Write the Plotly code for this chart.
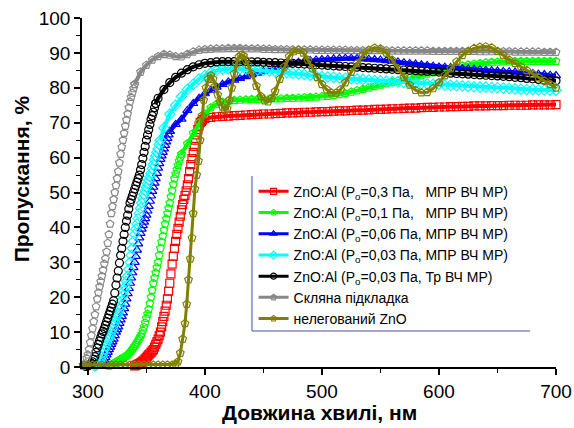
import plotly.graph_objects as go

# ---------------- data ----------------
# Each series: 1-nm steps through the absorption edge, then 5-nm steps to 700 nm.
wl_glass = list(range(296, 341)) + list(range(345, 701, 5))
T_glass = [0.3, 0.6, 1, 2.5, 3.5, 5, 7, 9, 11, 13, 15, 17.3, 19.5, 21.3, 23, 24.5, 26, 27.7, 29.5, 31, 33, 35.5,
           38, 41, 44, 46, 48, 50, 52, 54, 56, 58.5, 61, 63, 65, 67, 69, 70.8, 72.5, 74.3, 76, 77.3, 78.5,
           79.8, 81,
           84.5, 86.5, 88, 89, 89.6, 89.4, 89, 88.9, 89.6, 90.3, 90.8, 91, 91.1, 91.2, 91.2, 91.3, 91.3, 91.3,
           91.2, 91.2, 91.2, 91.1, 91.1, 91, 91, 91, 90.9, 90.9, 90.9, 90.9, 90.8, 90.8, 90.8, 90.8, 90.8,
           90.8, 90.7, 90.7, 90.7, 90.7, 90.7, 90.7, 90.7, 90.6, 90.6, 90.6, 90.6, 90.6, 90.6, 90.6, 90.5,
           90.5, 90.5, 90.5, 90.5, 90.5, 90.5, 90.5, 90.4, 90.4, 90.4, 90.4, 90.4, 90.4, 90.3, 90.3, 90.3,
           90.3, 90.3, 90.2, 90.2, 90.2]
edge_glass = 45

wl_tr003 = list(range(298, 359)) + list(range(360, 701, 5))
T_tr003 = [0.2, 0.25, 0.3, 0.5, 0.8, 1.1, 1.5, 2.2, 3, 4.2, 5.5, 6.5, 7.5, 8.5, 9.5, 10.2, 11, 12, 13, 14, 15,
           16, 17, 18, 19, 21.2, 23.5, 25.5, 27.5, 29.8, 32, 34, 36, 38, 40, 41.8, 43.5, 45.3, 47, 48, 49, 50,
           51, 52, 53, 54, 55, 56.5, 58, 59.8, 61.5, 63.2, 65, 66.5, 68, 69.5, 71, 72, 73, 74.3, 75.5,
           77, 79.5, 81.5, 83, 84.2, 85.2, 86, 86.6, 87, 87.2, 87.4, 87.5, 87.5, 87.5, 87.5, 87.5, 87.4, 87.4,
           87.3, 87.2, 87.2, 87.1, 87, 87, 86.9, 86.8, 86.7, 86.6, 86.5, 86.4, 86.3, 86.2, 86.1, 86, 85.9,
           85.8, 85.7, 85.6, 85.5, 85.4, 85.3, 85.2, 85.1, 85, 84.9, 84.8, 84.7, 84.6, 84.5, 84.4, 84.2, 84.1,
           84, 83.9, 83.8, 83.7, 83.6, 83.5, 83.4, 83.3, 83.2, 83, 82.9, 82.7, 82.6, 82.4, 82.2, 82.1, 82]
edge_tr003 = 61

wl_m003 = list(range(306, 363)) + list(range(365, 701, 5))
T_m003 = [0.3, 0.5, 0.8, 1.1, 1.5, 2.2, 3, 4, 5, 6, 7, 7.8, 8.5, 9.2, 10, 11, 12, 13, 14, 14.8, 15.5, 16.5,
          17.5, 19, 20.5, 21.8, 23, 24.5, 26, 28, 30, 32, 34, 36, 38, 39.5, 41, 42.5, 44, 45.5, 47, 48.3,
          49.5, 50.5, 51.5, 52.5, 53.5, 54.5, 55.5, 56.8, 58, 59.3, 60.5, 61.5, 62.5, 63.8, 65,
          68.5, 72.5, 75, 77.5, 79.5, 81, 82.5, 83.5, 84.3, 85, 85.3, 85.5, 85.5, 85.4, 85.3, 85.2, 85.1, 85,
          84.8, 84.7, 84.5, 84.3, 84.2, 84, 83.8, 83.6, 83.4, 83.2, 83.1, 83, 82.8, 82.7, 82.6, 82.5, 82.4,
          82.2, 82.1, 82, 81.9, 81.8, 81.7, 81.5, 81.4, 81.3, 81.2, 81.1, 81, 81, 80.8, 80.7, 80.6, 80.5,
          80.4, 80.3, 80.2, 80.2, 80.1, 80, 79.9, 79.8, 79.7, 79.6, 79.5, 79.5, 79.4, 79.4, 79.3, 79.3]
edge_m003 = 57

wl_m006 = list(range(310, 371)) + list(range(375, 701, 5))
T_m006 = [0.3, 0.6, 1, 1.5, 2, 2.7, 3.5, 4.2, 5, 5.7, 6.5, 7.2, 8, 9, 10, 10.7, 11.5, 12.5, 13.5, 14.5, 15.5,
          16.7, 18, 19.5, 21, 22.5, 24, 25.5, 27, 28.5, 30, 31.7, 33.5, 35.3, 37, 38.3, 39.5, 40.5, 41.5,
          42.5, 43.5, 44.7, 46, 47.5, 49, 50.3, 51.5, 52.7, 54, 55.5, 57, 58.3, 59.5, 60.5, 61.5, 62.5, 63.5,
          64.5, 65.5, 66.5, 67.5,
          69.5, 71, 73.5, 75.5, 77, 78.3, 79.3, 80.2, 81, 81.7, 82.2, 82.7, 83.2, 83.7, 84.2, 84.7, 85.2,
          85.7, 86.2, 86.6, 87, 87.3, 87.6, 87.8, 88, 88.1, 88.2, 88.3, 88.4, 88.5, 88.5, 88.4, 88.3, 88.2,
          88.1, 88, 87.8, 87.6, 87.4, 87.2, 87, 86.8, 86.6, 86.4, 86.2, 86, 85.9, 85.8, 85.7, 85.5, 85.4,
          85.3, 85.2, 85, 84.9, 84.8, 84.7, 84.6, 84.5, 84.3, 84.2, 84.1, 83.9, 83.8, 83.6, 83.5]
edge_m006 = 61

wl_m01 = list(range(318, 381)) + list(range(385, 701, 5))
T_m01 = [0.3, 0.45, 0.6, 0.8, 1, 1.2, 1.4, 1.6, 1.8, 2, 2.2, 2.4, 2.6, 2.8, 3, 3.2, 3.5, 3.8, 4.2, 4.6, 5, 5.5,
         6, 6.5, 7, 7.6, 8.2, 8.8, 9.5, 10.5, 11.5, 12.7, 14, 15.2, 16.5, 18.2, 20, 22, 24, 25.5, 27, 28.5,
         30, 32, 34, 35.8, 37.5, 39.2, 41, 42.5, 44, 45.5, 47, 48.8, 50.5, 52.3, 54, 55.3, 56.5, 57.8, 59,
         60, 61,
         64, 67, 70, 72.5, 74.3, 75.3, 75.9, 76.2, 76.4, 76.5, 76.6, 76.7, 76.7, 76.8, 76.8, 76.9, 76.9, 77,
         77, 77.1, 77.2, 77.3, 77.4, 77.5, 77.6, 77.8, 78.1, 78.4, 78.8, 79.2, 79.6, 80, 80.4, 80.8, 81.2,
         81.6, 82, 82.4, 82.8, 83.2, 83.6, 84, 84.4, 84.8, 85.2, 85.6, 86, 86.3, 86.6, 86.8, 87, 87.2, 87.3,
         87.4, 87.5, 87.5, 87.6, 87.6, 87.6, 87.6, 87.6, 87.6, 87.6, 87.6]
edge_m01 = 63

wl_m03 = list(range(340, 399)) + list(range(400, 701, 5))
T_m03 = [0.3, 0.45, 0.6, 0.8, 1, 1.2, 1.4, 1.7, 2, 2.3, 2.7, 3.1, 3.5, 3.8, 4.2, 4.6, 5, 5.7, 6.5, 7.2, 8, 9,
         10, 11.5, 13, 14.5, 16, 17.7, 19.5, 21.7, 24, 26.7, 29.5, 31.7, 34, 36, 38, 39.7, 41.5, 43.2, 45,
         46.5, 48, 49.2, 50.5, 52.2, 54, 56, 58, 59.7, 61.5, 63.2, 65, 66.5, 68, 69, 70, 70.4, 70.8,
         71.2, 71.5, 71.7, 71.8, 71.9, 72, 72.1, 72.2, 72.3, 72.4, 72.5, 72.5, 72.6, 72.7, 72.8, 72.8, 72.9,
         73, 73, 73.1, 73.2, 73.2, 73.3, 73.4, 73.4, 73.5, 73.6, 73.6, 73.7, 73.8, 73.8, 73.9, 74, 74, 74.1,
         74.2, 74.2, 74.3, 74.4, 74.4, 74.5, 74.5, 74.6, 74.6, 74.7, 74.7, 74.8, 74.8, 74.8, 74.9, 74.9,
         74.9, 75, 75, 75, 75, 75.1, 75.1, 75.1, 75.1, 75.2]
edge_m03 = 59

wl_zno = [296, 300, 304, 308, 312, 316, 320, 324, 328, 332, 336, 340, 344, 348, 352, 356, 360, 364, 368, 372,
          375, 377, 379, 381, 383, 384.5, 386, 387.5, 389, 390, 391.5, 393, 394.5, 396, 397.5, 399, 401, 403,
          405, 407, 409, 411, 413, 415, 417, 419, 421, 423, 425, 427, 429, 431, 433, 435, 437, 440, 444, 448,
          451, 454, 457, 460, 464, 468, 472, 476, 480, 484, 488, 492, 496, 500, 504, 508, 512, 516, 520, 525,
          530, 535, 540, 545, 550, 555, 560, 565, 570, 575, 580, 585, 590, 595, 600, 605, 610, 615, 620, 625,
          630, 635, 640, 645, 650, 655, 660, 665, 670, 675, 680, 685, 690, 695, 700]
T_zno = [0.6] * 20 + [
    0.8, 1.5, 4, 8, 12.5, 18, 25, 31, 37, 44, 51, 55, 59, 65, 72, 76.5, 80, 82.5, 83.5, 82.5, 80.5, 78, 76,
    74.5, 73.6, 74, 76.5, 80, 84, 87, 88.8, 89.4, 89.2, 88, 86.5, 84, 80.5, 77.5, 76.3, 76, 77, 79, 82.5,
    86, 89, 90.4, 90.8, 90, 88, 85.5, 83, 81, 79.5, 78.6, 78.5, 79.5, 81.5, 84.5, 87, 89.3, 90.8, 91.4,
    91.2, 90, 88, 85.5, 83, 80.8, 79.3, 78.6, 78.7, 79.8, 81.5, 83.5, 85.5, 87.5, 89.3, 90.5, 91.3, 91.7,
    91.8, 91.5, 90.5, 89.3, 88, 87, 86, 85, 84, 83, 82, 81, 80]

names = [
    "ZnO:Al (P<sub>o</sub>=0,3 Па,\u00a0\u00a0\u00a0МПР ВЧ МР)",
    "ZnO:Al (P<sub>o</sub>=0,1 Па,\u00a0\u00a0\u00a0МПР ВЧ МР)",
    "ZnO:Al (P<sub>o</sub>=0,06 Па, МПР ВЧ МР)",
    "ZnO:Al (P<sub>o</sub>=0,03 Па, МПР ВЧ МР)",
    "ZnO:Al (P<sub>o</sub>=0,03 Па, Тр ВЧ МР)",
    "Скляна підкладка",
    "нелегований ZnO",
]
series = [(wl_m03, T_m03, edge_m03), (wl_m01, T_m01, edge_m01), (wl_m006, T_m006, edge_m006),
          (wl_m003, T_m003, edge_m003), (wl_tr003, T_tr003, edge_tr003), (wl_glass, T_glass, edge_glass),
          (wl_zno, T_zno, None)]
colors = ["#ff0000", "#00ff00", "#0000ff", "#00ffff", "#000000", "#888888", "#808000"]
symbols = ["square-open", "pentagon-open", "triangle-up-open", "diamond-open",
           "circle-open", "pentagon-open", "pentagon-open-dot"]

FONT = "Liberation Sans, Arial, sans-serif"

fig = go.Figure()
for i, ((x, y, k), nm, c, s) in enumerate(zip(series, names, colors, symbols)):
    n = min(len(x), len(y))
    x, y = x[:n], y[:n]
    mk = dict(symbol=s, size=8, color=c, line=dict(color=c, width=1.2))
    if k is None:
        fig.add_trace(go.Scatter(x=x, y=y, name=nm, legendgroup=str(i), showlegend=False,
                                 mode="lines+markers", line=dict(color=c, width=3),
                                 marker=mk, cliponaxis=False))
    else:
        # absorption edge: separate open symbols
        fig.add_trace(go.Scatter(x=x[:k], y=y[:k], name=nm, legendgroup=str(i), showlegend=False,
                                 mode="markers", marker=mk, cliponaxis=False))
        # plateau: dense symbols forming a thick band
        fig.add_trace(go.Scatter(x=x[k - 1:], y=y[k - 1:], name=nm, legendgroup=str(i), showlegend=False,
                                 mode="lines+markers", line=dict(color=c, width=4),
                                 marker=mk, cliponaxis=False))
    # legend entry: thick line with one symbol
    fig.add_trace(go.Scatter(
        x=[None], y=[None], name=nm, legendgroup=str(i), showlegend=True,
        mode="lines+markers",
        line=dict(color=c, width=3),
        marker=dict(symbol=s, size=6, color=c, line=dict(color=c, width=1.2)),
    ))

fig.update_layout(
    width=574, height=428, autosize=False,
    margin=dict(l=82, r=18, t=18, b=61, autoexpand=False),
    paper_bgcolor="white", plot_bgcolor="white",
    font=dict(family=FONT, color="black"),
    showlegend=True,
    legend=dict(x=0.362, y=0.548, xanchor="left", yanchor="top",
                bgcolor="rgba(0,0,0,0)", borderwidth=0,
                font=dict(family=FONT, size=14), tracegroupgap=0, itemwidth=30),
    xaxis=dict(range=[295, 700], tickvals=[300, 400, 500, 600, 700], automargin=False,
               showline=True, linecolor="black", linewidth=1.5, showgrid=False, zeroline=False,
               ticks="outside", ticklen=6, tickwidth=1.5, tickcolor="black",
               tickfont=dict(family=FONT, size=19),
               minor=dict(tickvals=[350, 450, 550, 650], ticks="outside", ticklen=4, tickwidth=1.2,
                          tickcolor="black", showgrid=False)),
    yaxis=dict(range=[0, 100], dtick=10, tick0=0, automargin=False,
               showline=True, linecolor="black", linewidth=1.5, showgrid=False, zeroline=False,
               ticks="outside", ticklen=6, tickwidth=1.5, tickcolor="black",
               tickfont=dict(family=FONT, size=19),
               minor=dict(dtick=5, ticks="outside", ticklen=4, tickwidth=1.2,
                          tickcolor="black", showgrid=False)),
    annotations=[
        dict(text="<b>Довжина хвилі, нм</b>", xref="paper", yref="paper", x=0.5, y=-0.131,
             xanchor="center", yanchor="middle", showarrow=False, font=dict(family=FONT, size=21)),
        dict(text="<b>Пропускання, %</b>", xref="paper", yref="paper", x=-0.127, y=0.54,
             xanchor="center", yanchor="middle", textangle=-90, showarrow=False,
             font=dict(family=FONT, size=21)),
    ],
    shapes=[
        dict(type="line", xref="paper", yref="paper", x0=0.3586, x1=0.3586, y0=0.1032, y1=0.5473,
             line=dict(color="#4a4aa8", width=1)),
        dict(type="line", xref="paper", yref="paper", x0=0.3586, x1=0.9451, y0=0.1032, y1=0.1032,
             line=dict(color="#4a4aa8", width=1)),
    ],
)

fig.write_html("out.html")
